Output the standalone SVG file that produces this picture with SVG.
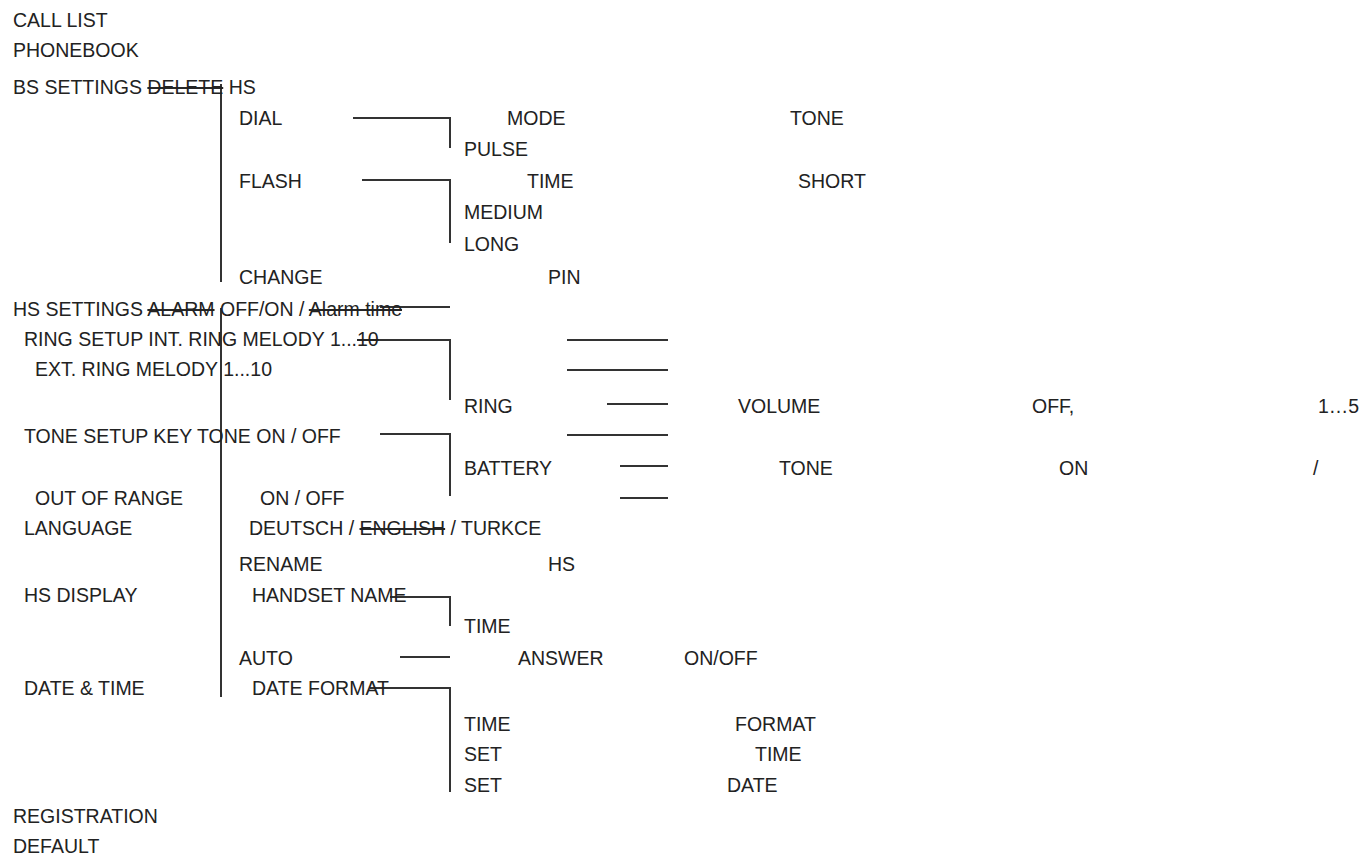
<svg xmlns="http://www.w3.org/2000/svg" width="1365" height="859" viewBox="0 0 1365 859">
<style>
text{font-family:"Liberation Sans",Arial,sans-serif;font-size:19.5px;fill:#222}
.s{text-decoration:line-through}
line,polyline{stroke:#333;stroke-width:2;fill:none}
</style>
<rect width="1365" height="859" fill="#fff"/>
<g id="connectors">
<line x1="221" y1="84" x2="221" y2="282"/>
<line x1="221" y1="308" x2="221" y2="697"/>
<polyline points="353,118 450,118 450,148"/>
<polyline points="362,180 450,180 450,243"/>
<line x1="380" y1="307" x2="450" y2="307"/>
<polyline points="370,340 450,340 450,400"/>
<polyline points="380,434 450,434 450,496"/>
<polyline points="390,597 450,597 450,626"/>
<line x1="400" y1="657" x2="450" y2="657"/>
<polyline points="370,688 450,688 450,792"/>
<line x1="567" y1="340" x2="668" y2="340"/>
<line x1="567" y1="370" x2="668" y2="370"/>
<line x1="607" y1="404" x2="668" y2="404"/>
<line x1="567" y1="435" x2="668" y2="435"/>
<line x1="620" y1="466" x2="668" y2="466"/>
<line x1="620" y1="498" x2="668" y2="498"/>
</g>
<g id="n1"><text x="13" y="27">CALL LIST</text></g>
<g id="n2"><text x="13" y="57">PHONEBOOK</text></g>
<g id="n3"><text x="13" y="94">BS SETTINGS <tspan class="s">DELETE</tspan> HS</text></g>
<g id="n4"><text x="239" y="125">DIAL</text><text x="507" y="125">MODE</text><text x="790" y="125">TONE</text><text x="464" y="156">PULSE</text></g>
<g id="n5"><text x="239" y="188">FLASH</text><text x="527" y="188">TIME</text><text x="798" y="188">SHORT</text><text x="464" y="219">MEDIUM</text><text x="464" y="251">LONG</text></g>
<g id="n6"><text x="239" y="284">CHANGE</text><text x="548" y="284">PIN</text></g>
<g id="n7"><text x="13" y="316">HS SETTINGS <tspan class="s">ALARM</tspan> OFF/ON / <tspan class="s">Alarm time</tspan></text></g>
<g id="n8"><text x="24" y="346">RING SETUP INT. RING MELODY 1...<tspan class="s">10</tspan></text><text x="35" y="376">EXT. RING MELODY 1...10</text></g>
<g id="n9"><text x="464" y="413">RING</text><text x="738" y="413">VOLUME</text><text x="1032" y="413">OFF,</text><text x="1318" y="413">1…5</text></g>
<g id="n10"><text x="24" y="443">TONE SETUP KEY TONE ON / OFF</text></g>
<g id="n11"><text x="464" y="475">BATTERY</text><text x="779" y="475">TONE</text><text x="1059" y="475">ON</text><text x="1313" y="475">/</text></g>
<g id="n12"><text x="35" y="505">OUT OF RANGE</text><text x="260" y="505">ON / OFF</text></g>
<g id="n13"><text x="24" y="535">LANGUAGE</text><text x="249" y="535">DEUTSCH / <tspan class="s">ENGLISH</tspan> / TURKCE</text></g>
<g id="n14"><text x="239" y="571">RENAME</text><text x="548" y="571">HS</text></g>
<g id="n15"><text x="24" y="602">HS DISPLAY</text><text x="252" y="602">HANDSET NAME</text><text x="464" y="633">TIME</text></g>
<g id="n16"><text x="239" y="665">AUTO</text><text x="518" y="665">ANSWER</text><text x="684" y="665">ON/OFF</text></g>
<g id="n17"><text x="24" y="695">DATE &amp; TIME</text><text x="252" y="695">DATE FORMAT</text></g>
<g id="n18"><text x="464" y="731">TIME</text><text x="735" y="731">FORMAT</text><text x="464" y="761">SET</text><text x="755" y="761">TIME</text><text x="464" y="792">SET</text><text x="727" y="792">DATE</text></g>
<g id="n19"><text x="13" y="823">REGISTRATION</text></g>
<g id="n20"><text x="13" y="853">DEFAULT</text></g>
</svg>
